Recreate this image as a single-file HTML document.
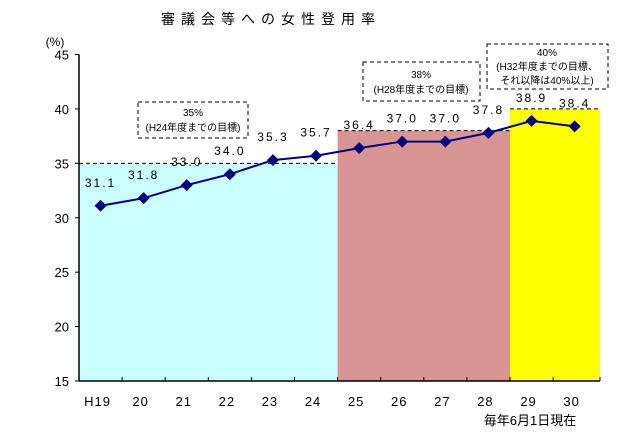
<!DOCTYPE html>
<html><head><meta charset="utf-8"><style>
body{margin:0;background:#fff;}
svg text{font-family:"Liberation Sans","Noto Sans CJK JP",sans-serif;}
</style></head><body>
<svg width="620" height="442" xmlns="http://www.w3.org/2000/svg">
<text x="271" y="24" font-size="14" text-anchor="middle" letter-spacing="6">審議会等への女性登用率</text>
<text x="55" y="46" font-size="12" text-anchor="middle">(%)</text>
<g id="bands"></g>
<g id="axes"></g>
<g id="series"></g>
<g>
<rect x="138" y="102" width="110" height="36" fill="#fff" stroke="#000" stroke-dasharray="4,3"/>
<text x="193" y="116" font-size="10" text-anchor="middle">35%</text>
<text x="193" y="131" font-size="10" text-anchor="middle">(H24年度までの目標)</text>
</g>
<g>
<rect x="363" y="62" width="117" height="39" fill="#fff" stroke="#000" stroke-dasharray="4,3"/>
<text x="421" y="78" font-size="10" text-anchor="middle">38%</text>
<text x="421" y="93" font-size="10" text-anchor="middle">(H28年度までの目標)</text>
</g>
<g>
<rect x="487" y="44" width="121" height="45" fill="#fff" stroke="#000" stroke-dasharray="4,3"/>
<text x="547" y="56" font-size="10" text-anchor="middle">40%</text>
<text x="547" y="70" font-size="10" text-anchor="middle">(H32年度までの目標、</text>
<text x="547" y="84" font-size="10" text-anchor="middle">それ以降は40%以上)</text>
</g>
<text x="530" y="425" font-size="13" text-anchor="middle">毎年6月1日現在</text>
</svg>
<script>
const categories=["H19","20","21","22","23","24","25","26","27","28","29","30"];
const values=[31.1,31.8,33.0,34.0,35.3,35.7,36.4,37.0,37.0,37.8,38.9,38.4];
const yTicks=[15,20,25,30,35,40,45];
const bandStarts=[0,6,10];
const bandEnds=[6,10,12];
const bandTargets=[35,38,40];
const bandColors=["#ccffff","#d99594","#ffff00"];
const NS="http://www.w3.org/2000/svg";
const L=79,R=600,T=54.5,B=381,ymin=15,ymax=45;
const step=43.1;
const xs=i=>L+step*(i+0.5);
const xe=i=>i>=categories.length?R:L+step*i;
const y=v=>B-(v-ymin)/(ymax-ymin)*(B-T);
function mk(tag,attrs,parent){const e=document.createElementNS(NS,tag);for(const k in attrs)e.setAttribute(k,attrs[k]);parent.appendChild(e);return e;}
const bands=document.getElementById('bands');
bandStarts.forEach((s,i)=>{
 const r=mk('rect',{x:xe(s),y:y(bandTargets[i]),width:xe(bandEnds[i])-xe(s),height:B-y(bandTargets[i]),fill:bandColors[i]},bands);
 
 
 const l=mk('line',{x1:xe(s),x2:xe(bandEnds[i]),y1:y(bandTargets[i]),y2:y(bandTargets[i]),stroke:'#000','stroke-dasharray':'4,3'},bands);
 
 
});
const ax=document.getElementById('axes');
mk('line',{x1:L,x2:L,y1:T,y2:B,stroke:'#000','stroke-width':1.5},ax);
mk('line',{x1:L,x2:R,y1:B,y2:B,stroke:'#000','stroke-width':1.5},ax);
yTicks.forEach(v=>{
 mk('line',{x1:L-4,x2:L,y1:y(v),y2:y(v),stroke:'#000'},ax);
 const t=mk('text',{x:L-10,y:y(v)+5,'font-size':13,'text-anchor':'end'},ax);t.textContent=v;
 
 
});
categories.forEach((c,i)=>{
 mk('line',{x1:xe(i+1),x2:xe(i+1),y1:B-4,y2:B,stroke:'#000'},ax);
 const t=mk('text',{x:xs(i)-3,y:406,'font-size':13,'text-anchor':'middle','letter-spacing':1},ax);t.textContent=c;
 
 
});
const sg=document.getElementById('series');
const pl=mk('polyline',{points:values.map((v,i)=>xs(i)+','+y(v)).join(' '),fill:'none',stroke:'#000080','stroke-width':2},sg);


values.forEach((v,i)=>{
 const cx=xs(i),cy=y(v);
 const p=mk('polygon',{points:`${cx},${cy-6} ${cx+6},${cy} ${cx},${cy+6} ${cx-6},${cy}`,fill:'#000080'},sg);
 
 
 const t=mk('text',{x:cx,y:cy-19,'font-size':12,'text-anchor':'middle','letter-spacing':2},sg);t.textContent=v.toFixed(1);
 
 
});
</script>
</body></html>
